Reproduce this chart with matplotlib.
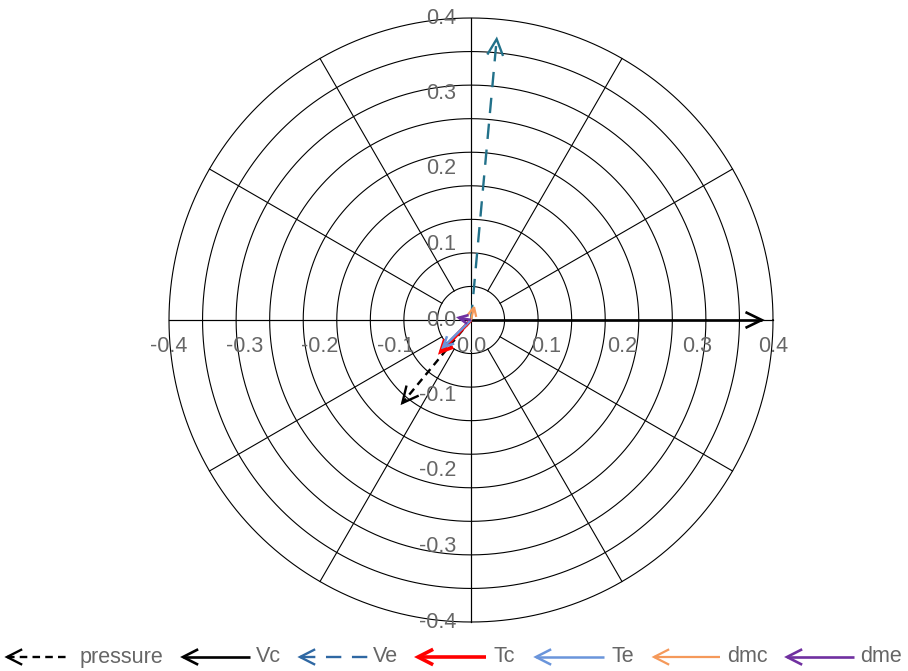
import numpy as np
import matplotlib
matplotlib.use("Agg")
import matplotlib.pyplot as plt

# ---- data -------------------------------------------------------------
names = ["pressure", "Vc", "Ve", "Tc", "Te", "dmc", "dme"]
x_end = [-0.091, 0.385, 0.034, -0.040, -0.037, 0.004, -0.016]
y_end = [-0.110, 0.000, 0.372, -0.042, -0.036, 0.017, 0.003]
line_colors = ["#000000", "#000000", "#22718a", "#ff0000", "#6a95db", "#f5995a", "#7030a0"]
legend_colors = ["#000000", "#000000", "#2f68a3", "#ff0000", "#6a95db", "#f5995a", "#7030a0"]
dashes = [(3.2, 2.2), None, (6.5, 4.5), None, None, None, None]
widths = [1.7, 1.9, 1.7, 2.6, 1.8, 1.6, 1.9]

tick_vals = [-0.4, -0.3, -0.2, -0.1, 0.0, 0.1, 0.2, 0.3, 0.4]
r_max = 0.4
n_rings = 9
spoke_deg = np.arange(0, 360, 30)

# ---- figure -----------------------------------------------------------
W, H, DPI = 908, 671, 100
fig = plt.figure(figsize=(W / DPI, H / DPI), dpi=DPI)
ax = fig.add_axes([0, 0, 1, 1])
ax.set_axis_off()

cx, cy, scale = 471.0, 320.0, 755.0   # pixel centre and pixels per unit
ax.set_xlim((0 - cx) / scale, (W - cx) / scale)
ax.set_ylim(-(H - cy) / scale, cy / scale)
ax.set_aspect("equal")

def px(x):
    return (x - cx) / scale

def py(y):
    return -(y - cy) / scale

grey = "#666666"
font = "Liberation Sans"
fs = 15.5

# rings
th = np.linspace(0, 2 * np.pi, 721)
r_step = r_max / n_rings
for k in range(1, n_rings + 1):
    r = k * r_step
    ax.plot(r * np.cos(th), r * np.sin(th), color="black", lw=0.8, zorder=1)

# spokes
for d in spoke_deg:
    a = np.deg2rad(d)
    ax.plot([r_step * np.cos(a), r_max * np.cos(a)],
            [r_step * np.sin(a), r_max * np.sin(a)], color="black", lw=0.8, zorder=1)

# axes through the centre
ax.plot([-r_max, r_max], [0, 0], color="black", lw=0.8, zorder=1)
ax.plot([0, 0], [-r_max, r_max], color="black", lw=0.8, zorder=1)

# tick labels
for v in tick_vals:
    ax.text(v, py(347), f"{v:.1f}", ha="center", va="center", color=grey,
            fontsize=fs, family=font, zorder=2)
    ax.text(px(456), v, f"{v:.1f}", ha="right", va="center", color=grey,
            fontsize=fs, family=font, zorder=2)

def arrow_head(x0, y0, x1, y1, length, ang_deg, color, lw, z):
    d = np.array([x1 - x0, y1 - y0])
    d = d / np.hypot(*d)
    back = -d
    pts = []
    for s in (1, -1):
        a = np.deg2rad(s * ang_deg)
        rot = np.array([[np.cos(a), -np.sin(a)], [np.sin(a), np.cos(a)]])
        pts.append(np.array([x1, y1]) + length * rot @ back)
    ax.plot([pts[0][0], x1, pts[1][0]], [pts[0][1], y1, pts[1][1]],
            color=color, lw=lw, solid_joinstyle="miter", solid_capstyle="butt", zorder=z)

# vectors
for i, n in enumerate(names):
    z = 3 + i
    ln, = ax.plot([0, x_end[i]], [0, y_end[i]], color=line_colors[i], lw=widths[i],
                  solid_capstyle="butt", zorder=z)
    if dashes[i] is not None:
        ln.set_dashes(dashes[i])
    mag = np.hypot(x_end[i], y_end[i])
    hl = min(18 / scale, max(10 / scale, 0.3 * mag))
    arrow_head(0, 0, x_end[i], y_end[i], hl, 26, line_colors[i], widths[i], z)

# legend along the bottom
leg_y = py(657)
icon_x = [(7, 68), (183, 250), (300, 368), (418, 486), (536, 604), (654, 720), (787, 854)]
text_x = [80, 256, 373, 493, 611, 727, 860]
for i, n in enumerate(names):
    xs, xe = icon_x[i]
    ln, = ax.plot([px(xs), px(xe)], [leg_y, leg_y], color=legend_colors[i], lw=widths[i],
                  solid_capstyle="butt", zorder=3)
    if dashes[i] is not None:
        ln.set_dashes(dashes[i])
    arrow_head(px(xe), leg_y, px(xs), leg_y, 17 / scale, 27, legend_colors[i], widths[i], 3)
    ax.text(px(text_x[i]), leg_y, n, ha="left", va="center", color=grey,
            fontsize=fs, family=font)

fig.savefig("out.png", dpi=DPI)
